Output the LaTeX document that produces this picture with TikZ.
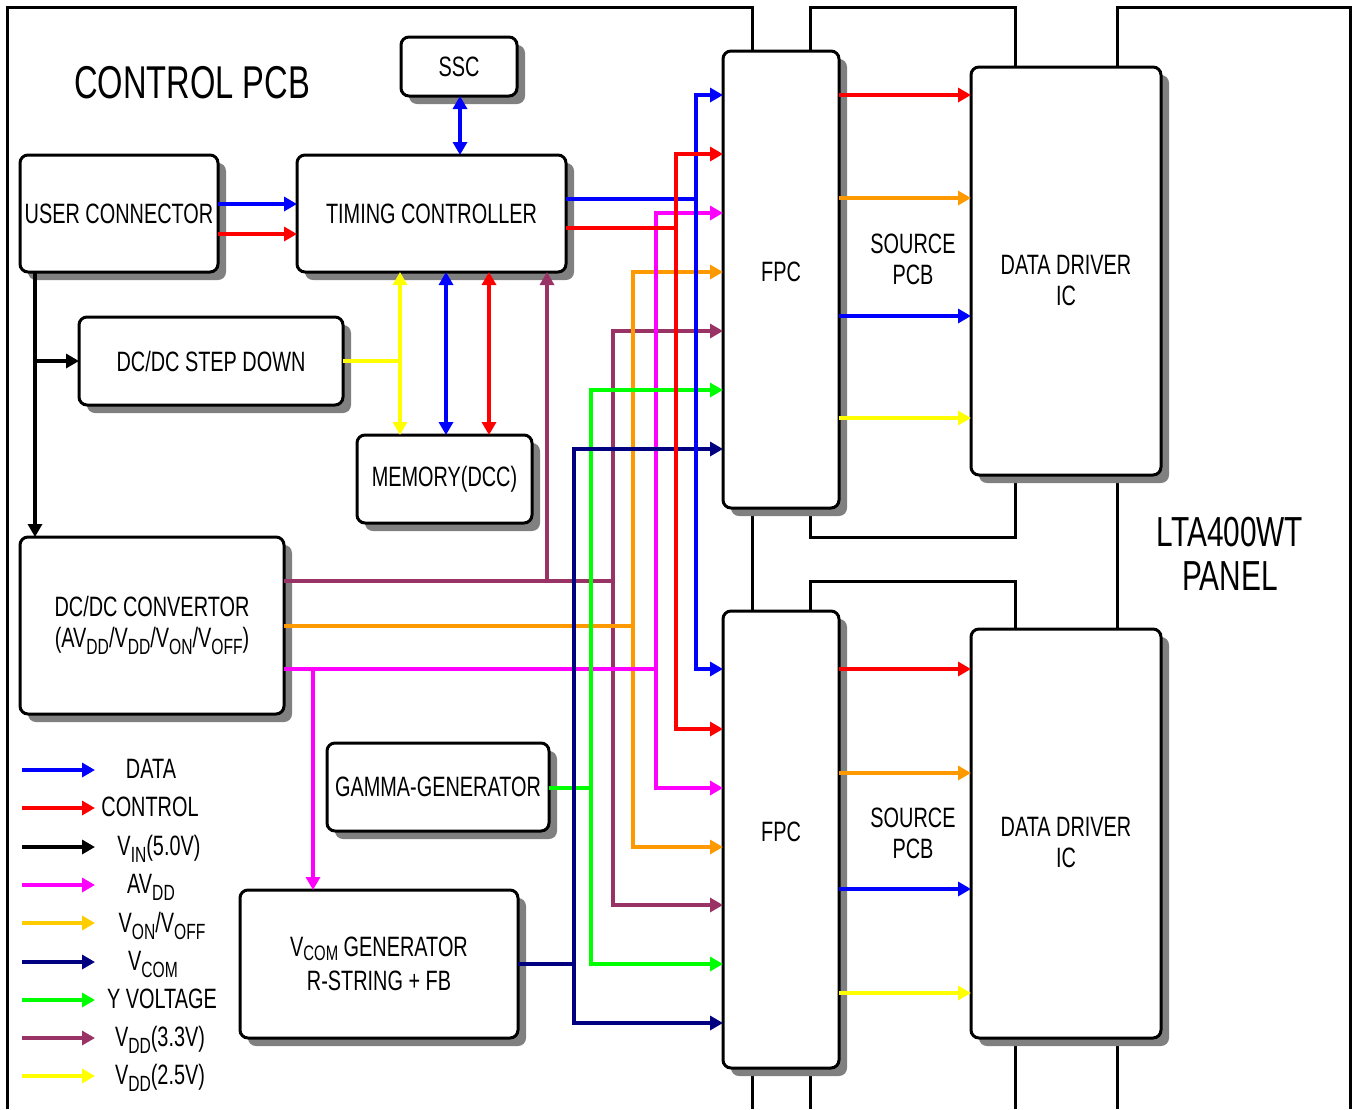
\documentclass[tikz,border=0pt]{standalone}
\usepackage{fontspec}
\setmainfont{Liberation Sans}[FakeStretch=0.71]
\usetikzlibrary{arrows.meta,shadows}
\definecolor{cB}{RGB}{0,0,255}
\definecolor{cR}{RGB}{255,0,0}
\definecolor{cM}{RGB}{255,0,255}
\definecolor{cO}{RGB}{255,153,0}
\definecolor{cP}{RGB}{153,51,102}
\definecolor{cG}{RGB}{0,255,0}
\definecolor{cN}{RGB}{0,0,128}
\definecolor{cY}{RGB}{255,255,0}
\definecolor{cGold}{RGB}{255,204,0}
\definecolor{shgray}{RGB}{128,128,128}
\newcommand{\lblfont}{\fontsize{28}{31}\selectfont}
\newcommand{\bigfont}{\fontsize{46}{50}\selectfont}
\newcommand{\panelfont}{\fontsize{42}{44}\selectfont}
\newcommand{\sbx}[1]{\raisebox{-7pt}{\fontsize{22}{22}\selectfont #1}}
\newcommand{\sbxs}[1]{\raisebox{-4pt}{\fontsize{21}{21}\selectfont #1}}
\begin{document}
\begin{tikzpicture}[x=1pt,y=-1pt,
  >={Triangle[length=13pt,width=14pt]},
  frame/.style={line width=3pt},
  box/.style={draw, line width=3pt, fill=white, rounded corners=8pt,
    inner sep=0pt, outer sep=0pt, font=\lblfont, align=center,
    general shadow={fill=shgray, shadow xshift=8pt, shadow yshift=-8pt}},
  wire/.style={line width=3.4pt},
  txt/.style={font=\lblfont, align=center, inner sep=0pt}]
\useasboundingbox[fill=white] (0,0) rectangle (1358,1109);

% outer frames
\draw[frame] (7,1109) -- (7,7) -- (752,7) -- (752,1109);
\draw[frame] (810,7) rectangle (1015,537);
\draw[frame] (810,1109) -- (810,581) -- (1015,581) -- (1015,1109);
\draw[frame] (1117,1109) -- (1117,7) -- (1350,7) -- (1350,1109);

\node[font=\bigfont, inner sep=0pt] (ctitle) at (192,83) {CONTROL PCB};
\node[txt] (srclbl1) at (913,259) {SOURCE\\PCB};
\node[txt] (srclbl2) at (913,833) {SOURCE\\PCB};
\node[font=\panelfont, align=center, inner sep=0pt] (panel) at (1230,554) {LTA400WT\\PANEL};

% boxes
\node[box, minimum width=116pt, minimum height=59pt] (ssc) at (459,66.5) {SSC};
\node[box, minimum width=198pt, minimum height=117pt] (user) at (119,213.5) {USER CONNECTOR};
\node[box, minimum width=269pt, minimum height=117pt] (tcon) at (431.5,213.5) {TIMING CONTROLLER};
\node[box, minimum width=264pt, minimum height=88pt] (step) at (211,361) {DC/DC STEP DOWN};
\node[box, minimum width=175pt, minimum height=88pt] (mem) at (444.5,479) {MEMORY(DCC)};
\node[box, minimum width=264pt, minimum height=177pt] (conv) at (152,625.5)
  {DC/DC CONVERTOR\\(AV\sbx{DD}/V\sbx{DD}/V\sbx{ON}/V\sbx{OFF})};
\node[box, minimum width=222pt, minimum height=88pt] (gamma) at (438,787) {GAMMA-GENERATOR};
\node[box, minimum width=278pt, minimum height=148pt] (vcom) at (379,964)
  {V\sbxs{COM} GENERATOR\\[3pt]R-STRING + FB};
\node[box, minimum width=116pt, minimum height=457pt,
  label={[txt, yshift=8pt]center:FPC}] (fpc1) at (781,279.5) {};
\node[box, minimum width=116pt, minimum height=457pt,
  label={[txt, yshift=8pt]center:FPC}] (fpc2) at (781,839.5) {};
\node[box, minimum width=190pt, minimum height=408pt,
  label={[txt, yshift=-9pt]center:DATA DRIVER\\IC}] (dd1) at (1066,271) {};
\node[box, minimum width=190pt, minimum height=409pt,
  label={[txt, yshift=-9pt]center:DATA DRIVER\\IC}] (dd2) at (1066,833.5) {};

% junction coordinates
\coordinate (jB) at (696,199);
\coordinate (jR) at (676,228);
\coordinate (jM) at (656,669);
\coordinate (jO) at (633,626);
\coordinate (jP) at (613,581);
\coordinate (jPt) at (547,581);
\coordinate (jG) at (591,788);
\coordinate (jN) at (574,964);
\coordinate (jMv) at (313,669);
\coordinate (jY) at (400,361);
\coordinate (jK) at (35,361);

% black VIN
\draw[wire,->] (user.south -| jK) -- (conv.north -| jK);
\draw[wire,->] (jK) -- (step.west);

% user -> tcon
\draw[wire,cB,->] (user.east |- 0,204) -- (tcon.west |- 0,204);
\draw[wire,cR,->] (user.east |- 0,234) -- (tcon.west |- 0,234);

% ssc <-> tcon
\draw[wire,cB,<->] (ssc.south -| 460,0) -- (tcon.north -| 460,0);

% tcon <-> memory
\draw[wire,cY] (step.east) -- (jY);
\draw[wire,cY,<->] (tcon.south -| jY) -- (mem.north -| jY);
\draw[wire,cB,<->] (tcon.south -| 446,0) -- (mem.north -| 446,0);
\draw[wire,cR,<->] (tcon.south -| 489,0) -- (mem.north -| 489,0);

% purple VDD 3.3
\draw[wire,cP] (conv.east |- jP) -- (jP);
\draw[wire,cP,->] (jPt) -- (tcon.south -| jPt);
\draw[wire,cP,->] (jP) |- (fpc1.west |- 0,331);
\draw[wire,cP,->] (jP) |- (fpc2.west |- 0,905);

% orange
\draw[wire,cO] (conv.east |- jO) -- (jO);
\draw[wire,cO,->] (jO) |- (fpc1.west |- 0,272);
\draw[wire,cO,->] (jO) |- (fpc2.west |- 0,847);

% magenta
\draw[wire,cM] (conv.east |- jM) -- (jM);
\draw[wire,cM,->] (jM) |- (fpc1.west |- 0,213);
\draw[wire,cM,->] (jM) |- (fpc2.west |- 0,788);
\draw[wire,cM,->] (jMv) -- (vcom.north -| jMv);

% green
\draw[wire,cG] (gamma.east |- jG) -- (jG);
\draw[wire,cG,->] (jG) |- (fpc1.west |- 0,390);
\draw[wire,cG,->] (jG) |- (fpc2.west |- 0,964);

% navy
\draw[wire,cN] (vcom.east |- jN) -- (jN);
\draw[wire,cN,->] (jN) |- (fpc1.west |- 0,449);
\draw[wire,cN,->] (jN) |- (fpc2.west |- 0,1023);

% blue data
\draw[wire,cB] (tcon.east |- jB) -- (jB);
\draw[wire,cB,->] (jB) |- (fpc1.west |- 0,95);
\draw[wire,cB,->] (jB) |- (fpc2.west |- 0,669);

% red control
\draw[wire,cR] (tcon.east |- jR) -- (jR);
\draw[wire,cR,->] (jR) |- (fpc1.west |- 0,154);
\draw[wire,cR,->] (jR) |- (fpc2.west |- 0,729);

% FPC -> data driver
\draw[wire,cR,->] (fpc1.east |- 0,95) -- (dd1.west |- 0,95);
\draw[wire,cO,->] (fpc1.east |- 0,198) -- (dd1.west |- 0,198);
\draw[wire,cB,->] (fpc1.east |- 0,316) -- (dd1.west |- 0,316);
\draw[wire,cY,->] (fpc1.east |- 0,418) -- (dd1.west |- 0,418);
\draw[wire,cR,->] (fpc2.east |- 0,669) -- (dd2.west |- 0,669);
\draw[wire,cO,->] (fpc2.east |- 0,773) -- (dd2.west |- 0,773);
\draw[wire,cB,->] (fpc2.east |- 0,889) -- (dd2.west |- 0,889);
\draw[wire,cY,->] (fpc2.east |- 0,993) -- (dd2.west |- 0,993);

% legend
\coordinate (lgA) at (22,0);
\coordinate (lgB) at (95,0);
\draw[wire,cB,->] (lgA |- 0,770) -- (lgB |- 0,770);
\draw[wire,cR,->] (lgA |- 0,808) -- (lgB |- 0,808);
\draw[wire,black,->] (lgA |- 0,847) -- (lgB |- 0,847);
\draw[wire,cM,->] (lgA |- 0,885) -- (lgB |- 0,885);
\draw[wire,cGold,->] (lgA |- 0,923) -- (lgB |- 0,923);
\draw[wire,cN,->] (lgA |- 0,962) -- (lgB |- 0,962);
\draw[wire,cG,->] (lgA |- 0,1000) -- (lgB |- 0,1000);
\draw[wire,cP,->] (lgA |- 0,1038) -- (lgB |- 0,1038);
\draw[wire,cY,->] (lgA |- 0,1076) -- (lgB |- 0,1076);
\node[txt, anchor=base] (l1) at (151,778) {DATA};
\node[txt, anchor=base] (l2) at (150,816) {CONTROL};
\node[txt, anchor=base] (l3) at (159,855) {V\sbx{IN}(5.0V)};
\node[txt, anchor=base] (l4) at (151,893) {AV\sbx{DD}};
\node[txt, anchor=base] (l5) at (162,932) {V\sbx{ON}/V\sbx{OFF}};
\node[txt, anchor=base] (l6) at (153,970) {V\sbx{COM}};
\node[txt, anchor=base] (l7) at (162,1008) {Y VOLTAGE};
\node[txt, anchor=base] (l8) at (160,1046) {V\sbx{DD}(3.3V)};
\node[txt, anchor=base] (l9) at (160,1084) {V\sbx{DD}(2.5V)};
\end{tikzpicture}
\end{document}
